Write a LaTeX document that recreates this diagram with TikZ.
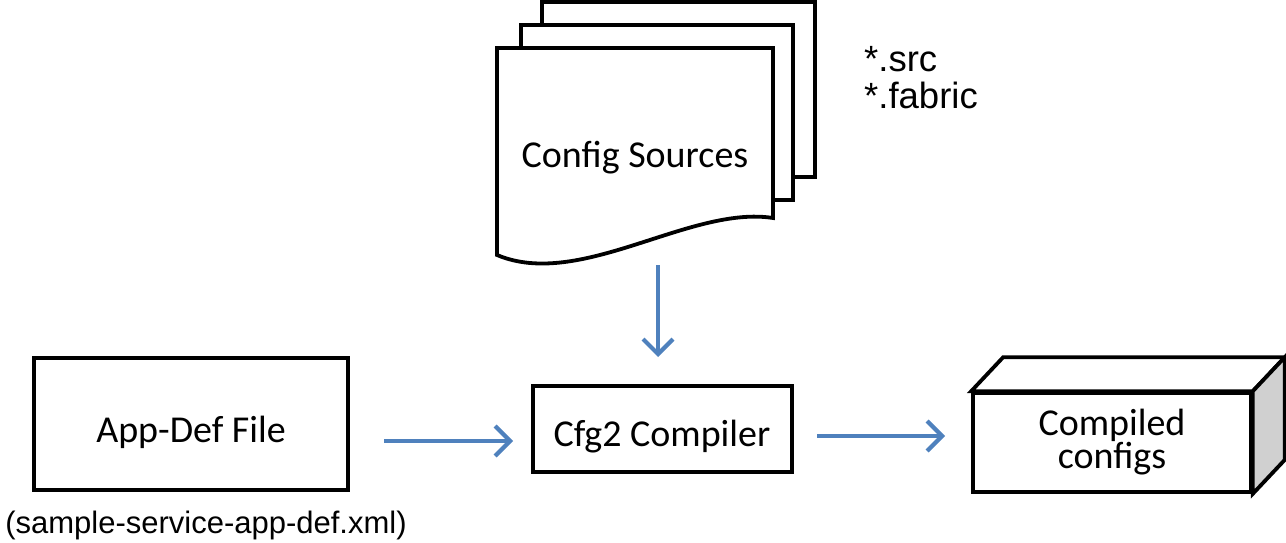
\documentclass[tikz,border=0pt]{standalone}
\usepackage{fontspec}
\setmainfont{Carlito}
\newfontfamily\arialf{Liberation Sans}
\usetikzlibrary{arrows.meta}
\definecolor{arrowblue}{HTML}{4F81BD}
\definecolor{sidegray}{HTML}{D0D0D0}
\begin{document}
\begin{tikzpicture}[x=1pt,y=-1pt,
  page/.style={draw=black, fill=white, line width=3.8pt, line join=miter},
  box/.style={draw=black, fill=white, line width=3.6pt, inner sep=0pt},
  lbl/.style={font=\fontsize{38}{33}\selectfont, anchor=base, inner sep=0pt},
  note/.style={font=\arialf\fontsize{36.5}{36}\selectfont, inner sep=0pt},
  flow/.style={draw=arrowblue, line width=4.2pt, -{Straight Barb[length=15pt,width=30pt]}}
]
\useasboundingbox (0,0) rectangle (1286,543);

% Config sources: stacked documents
\draw[page] (542,2) rectangle (815,177);
\draw[page] (521,25) rectangle (793,200);
\draw[page] (497,48) -- (773,48) -- (773,218) .. controls (690,205) and (580,290) .. (497,255) -- cycle;
\node[lbl] (srct) at (635,167) {Config Sources};

\node[note, anchor=base west, align=left] (ext) at (864,108) {*.src\\*.fabric};

% App-Def box
\node[box, minimum width=314pt, minimum height=132pt] (appdef) at (191,424) {};
\node[lbl] (appdeft) at (191,442) {App-Def File};
\node[font=\arialf\fontsize{31}{33}\selectfont, anchor=base, inner sep=0pt] (appfile) at (206,533) {(sample-service-app-def.xml)};

% Compiler box
\node[box, minimum width=259pt, minimum height=86pt] (cfg) at (662.5,429) {};
\node[lbl] (cfgt) at (662,446) {Cfg2 Compiler};

% Compiled configs cube
\node[box, minimum width=278pt, minimum height=99pt] (cube) at (1112,442.5) {};
\draw[page] (cube.north west) -- ([shift={(32,-34)}]cube.north west) -- ([shift={(32,-34)}]cube.north east) -- (cube.north east) -- cycle;
\draw[page, fill=sidegray] (cube.north east) -- ([shift={(32,-34)}]cube.north east) -- ([shift={(32,-34)}]cube.south east) -- (cube.south east) -- cycle;
\node[lbl, align=center] (cubet) at (1112,468) {Compiled\\configs};

% Arrows
\coordinate (a1s) at (384,441);
\coordinate (a1e) at (513,441);
\coordinate (a2s) at (817,436);
\coordinate (a2e) at (945,436);
\coordinate (a3s) at (658,265);
\coordinate (a3e) at (658,357);
\draw[flow] (a1s) -- (a1e);
\draw[flow] (a2s) -- (a2e);
\draw[flow] (a3s) -- (a3e);
\end{tikzpicture}
\end{document}
